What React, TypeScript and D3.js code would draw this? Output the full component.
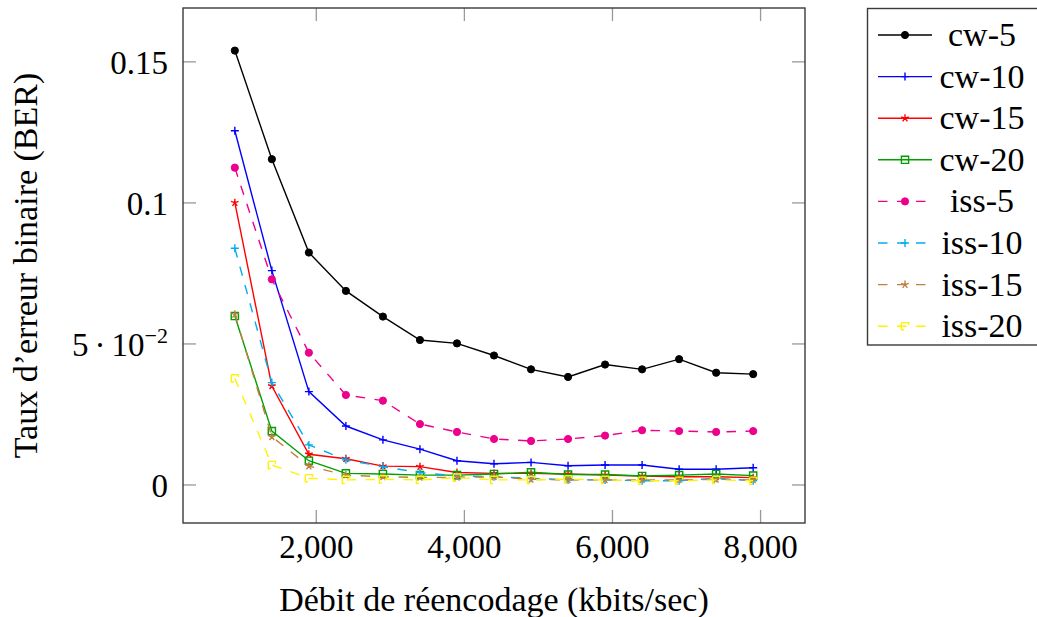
import React from "react";
import * as d3 from "d3";

const rates = [900, 1400, 1900, 2400, 2900, 3400, 3900, 4400, 4900, 5400, 5900, 6400, 6900, 7400, 7900];

const cw5 = [0.154, 0.1155, 0.0824, 0.0688, 0.0597, 0.0514, 0.0502, 0.0459, 0.041, 0.0383, 0.0427, 0.041, 0.0446, 0.0398, 0.0393];
const cw10 = [0.1256, 0.076, 0.0331, 0.0209, 0.016, 0.0127, 0.0086, 0.0075, 0.008, 0.0068, 0.0071, 0.0071, 0.0056, 0.0056, 0.0061];
const cw15 = [0.1001, 0.0351, 0.0109, 0.0093, 0.0067, 0.0065, 0.0044, 0.0041, 0.0041, 0.0039, 0.0035, 0.0032, 0.0029, 0.0029, 0.0026];
const cw20 = [0.0599, 0.0191, 0.0086, 0.0041, 0.0039, 0.0035, 0.0035, 0.0039, 0.0045, 0.0037, 0.0037, 0.0032, 0.0035, 0.0039, 0.0033];
const iss5 = [0.1125, 0.0729, 0.0469, 0.0319, 0.0299, 0.0216, 0.0188, 0.0163, 0.0156, 0.0163, 0.0175, 0.0194, 0.0191, 0.0188, 0.0191];
const iss10 = [0.0839, 0.0363, 0.0142, 0.0089, 0.0065, 0.0044, 0.0032, 0.0029, 0.0024, 0.0018, 0.0018, 0.0015, 0.0015, 0.0024, 0.0015];
const iss15 = [0.0605, 0.0171, 0.0067, 0.0035, 0.0029, 0.0027, 0.0027, 0.0029, 0.002, 0.0018, 0.0018, 0.0018, 0.0018, 0.002, 0.0018];
const iss20 = [0.0378, 0.0071, 0.0024, 0.0018, 0.002, 0.0018, 0.0026, 0.0018, 0.0018, 0.002, 0.0018, 0.0015, 0.0015, 0.0018, 0.0015];

const seriesNames = ["cw-5", "cw-10", "cw-15", "cw-20", "iss-5", "iss-10", "iss-15", "iss-20"];
const seriesValues = [cw5, cw10, cw15, cw20, iss5, iss10, iss15, iss20];
const seriesColors = ["#000000", "#0000ff", "#ff0000", "#00a000", "#ec008c", "#00aeef", "#bf8040", "#fff200"];
const seriesMarks = ["dot", "plus", "star", "square", "dot", "plus", "star", "square"];
const seriesDashed = [false, false, false, false, true, true, true, true];

const xTicks = [2000, 4000, 6000, 8000];
const xTickLabels = ["2,000", "4,000", "6,000", "8,000"];
const yTicks = [0, 0.05, 0.1, 0.15];

const W = 1037;
const H = 617;
const L = 183, R = 805, T = 8, B = 523;
const FONT = "'Liberation Serif', 'Times New Roman', serif";
const DASH = "9.5 9.5";

function markPath(kind: string, x: number, y: number): string {
  if (kind === "plus") {
    const r = 4;
    return `M${x - r},${y}H${x + r}M${x},${y - r}V${y + r}`;
  }
  if (kind === "star") {
    const r = 4;
    let p = "";
    for (let k = 0; k < 5; k++) {
      const a = -Math.PI / 2 + (k * 2 * Math.PI) / 5;
      p += `M${x},${y}L${x + r * Math.cos(a)},${y + r * Math.sin(a)}`;
    }
    return p;
  }
  if (kind === "square") {
    const r = 3.6;
    return `M${x - r},${y - r}h${2 * r}v${2 * r}h${-2 * r}Z`;
  }
  return "";
}

function Mark({ kind, x, y, color, dashed }: { kind: string; x: number; y: number; color: string; dashed: boolean }) {
  if (kind === "dot") {
    return <circle cx={x} cy={y} r={3.6} fill={color} stroke={color} strokeWidth={1} />;
  }
  return (
    <path
      d={markPath(kind, x, y)}
      fill="none"
      stroke={color}
      strokeWidth={1.4}
      strokeDasharray={dashed ? DASH : undefined}
    />
  );
}

export default function App() {
  const x = d3.scaleLinear().domain([200, 8600]).range([L, R]);
  const y = d3.scaleLinear().domain([-0.01348, 0.1691]).range([B, T]);
  const line = d3
    .line<number>()
    .x((_, i) => x(rates[i]))
    .y((d) => y(d));

  const legendX0 = 878, legendX1 = 932, legendMark = 905, legendText = 982;
  const legendY0 = 35, legendStep = 41.6;

  return (
    <svg width={W} height={H} style={{ position: "absolute", left: 0, top: 0, background: "#fff" }} fontFamily={FONT}>
      <rect x={0} y={0} width={W} height={H} fill="#fff" />
      {/* ticks */}
      {yTicks.map((t) => (
        <g key={"yt" + t} stroke="#999" strokeWidth={1.3}>
          <line x1={L} x2={L + 13} y1={y(t)} y2={y(t)} />
          <line x1={R} x2={R - 13} y1={y(t)} y2={y(t)} />
        </g>
      ))}
      {xTicks.map((t) => (
        <g key={"xt" + t} stroke="#999" strokeWidth={1.3}>
          <line x1={x(t)} x2={x(t)} y1={B} y2={B - 13} />
          <line x1={x(t)} x2={x(t)} y1={T} y2={T + 13} />
        </g>
      ))}
      {/* series */}
      {seriesValues.map((vals, si) => (
        <g key={seriesNames[si]}>
          <path
            d={line(vals) || ""}
            fill="none"
            stroke={seriesColors[si]}
            strokeWidth={1.4}
            strokeDasharray={seriesDashed[si] ? DASH : undefined}
          />
          {vals.map((v, i) => (
            <Mark key={i} kind={seriesMarks[si]} x={x(rates[i])} y={y(v)} color={seriesColors[si]} dashed={seriesDashed[si]} />
          ))}
        </g>
      ))}
      {/* frame */}
      <rect x={L} y={T} width={R - L} height={B - T} fill="none" stroke="#3a3a3a" strokeWidth={1.4} />
      {/* y tick labels */}
      {yTicks.map((t) => (
        <text key={"yl" + t} x={168} y={y(t) + 12} textAnchor="end" fontSize={33} fill="#000">
          {t === 0.05 ? (
            <>
              <tspan>5</tspan>
              <tspan dx={6}>·</tspan>
              <tspan dx={6}>10</tspan>
              <tspan dy={-13} fontSize={22}>−2</tspan>
            </>
          ) : (
            String(t)
          )}
        </text>
      ))}
      {/* x tick labels */}
      {xTicks.map((t, i) => (
        <text key={"xl" + t} x={x(t)} y={558} textAnchor="middle" fontSize={33} fill="#000">
          {xTickLabels[i]}
        </text>
      ))}
      {/* axis titles */}
      <text x={(L + R) / 2} y={611} textAnchor="middle" fontSize={34} fill="#000">
        Débit de réencodage (kbits/sec)
      </text>
      <text
        transform={`translate(37,${(T + B) / 2}) rotate(-90)`}
        textAnchor="middle"
        fontSize={34}
        fill="#000"
      >
        Taux d’erreur binaire (BER)
      </text>
      {/* legend */}
      <rect x={867.5} y={8.5} width={200} height={336.5} fill="#fff" stroke="#3a3a3a" strokeWidth={1.4} />
      {seriesNames.map((name, si) => {
        const ly = legendY0 + si * legendStep;
        return (
          <g key={"lg" + name}>
            <line
              x1={legendX0}
              x2={legendX1}
              y1={ly}
              y2={ly}
              stroke={seriesColors[si]}
              strokeWidth={1.4}
              strokeDasharray={seriesDashed[si] ? DASH : undefined}
            />
            <Mark kind={seriesMarks[si]} x={legendMark} y={ly} color={seriesColors[si]} dashed={seriesDashed[si]} />
            <text x={legendText} y={ly + 11} textAnchor="middle" fontSize={34} fill="#000">
              {name}
            </text>
          </g>
        );
      })}
    </svg>
  );
}
